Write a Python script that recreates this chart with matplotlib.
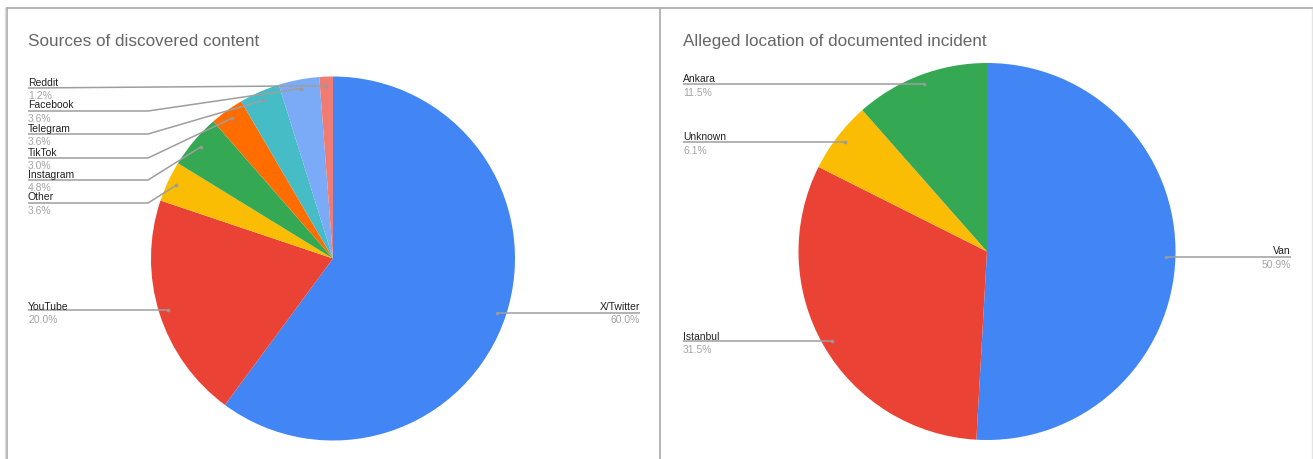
import numpy as np
import matplotlib
matplotlib.use("Agg")
import matplotlib.pyplot as plt

plt.rcParams['font.family'] = ['Liberation Sans', 'DejaVu Sans']

W, H = 1313, 459

# ---- data ----
left_title = "Sources of discovered content"
left_labels = ["X/Twitter", "YouTube", "Other", "Instagram", "TikTok", "Telegram", "Facebook", "Reddit"]
left_values = [60.0, 20.0, 3.6, 4.8, 3.0, 3.6, 3.6, 1.2]
left_colors = ["#4285F4", "#EA4335", "#FBBC04", "#34A853", "#FF6D01", "#46BDC6", "#7BAAF7", "#F07B72"]

right_title = "Alleged location of documented incident"
right_labels = ["Van", "Istanbul", "Unknown", "Ankara"]
right_values = [50.9, 31.5, 6.1, 11.5]
right_colors = ["#4285F4", "#EA4335", "#FBBC04", "#34A853"]

# ---- layout (pixels) ----
left_center = (333, 258.5)
left_radius = 182
right_center = (987, 251.5)
right_radius = 188.5

# label line y positions and side for each slice
left_label_y = {"X/Twitter": 312, "YouTube": 312, "Other": 203, "Instagram": 180,
                "TikTok": 158, "Telegram": 134, "Facebook": 111, "Reddit": 88}
left_label_side = {"X/Twitter": "right"}
right_label_y = {"Van": 257, "Istanbul": 342, "Unknown": 143, "Ankara": 85}
right_label_side = {"Van": "right"}

fig = plt.figure(figsize=(W / 100, H / 100), dpi=100)
ax = fig.add_axes([0, 0, 1, 1])

def Y(y):
    return H - y

LINE_C = "#9e9e9e"
NAME_C = "#222222"
PCT_C = "#a5a5a5"
TITLE_C = "#666666"
LABEL_FS = 7.5
TITLE_FS = 12.3


def draw_pie(values, labels, colors, center, radius, title, title_x,
             label_y, label_side, left_x, right_x, elbow_x):
    cx, cy = center
    ax.pie(values, colors=colors, startangle=90, counterclock=False,
           center=(cx, Y(cy)), radius=radius, normalize=True,
           wedgeprops=dict(linewidth=0, antialiased=True), frame=True)
    total = sum(values)
    cum = 0.0
    for v, lab in zip(values, labels):
        mid = (cum + v / 2) / total
        cum += v
        ang = np.deg2rad(90 - 360 * mid)
        dx = cx + 0.95 * radius * np.cos(ang)
        dy = cy - 0.95 * radius * np.sin(ang)
        L = label_y[lab]
        side = label_side.get(lab, "left")
        end_x = left_x if side == "left" else right_x
        diff = abs(dy - L)
        if diff <= 1.6:
            xs, ys = [dx, end_x], [dy, dy]
        elif elbow_x is not None and diff > 3:
            xs, ys = [dx, elbow_x, end_x], [dy, L, L]
        else:
            xs, ys = [dx, end_x], [dy, L]
        tx, ha = (left_x, "left") if side == "left" else (right_x, "right")
        ax.plot(xs, [Y(y) for y in ys], color=LINE_C, lw=1.1, solid_capstyle="butt", zorder=5)
        ax.plot([dx], [Y(dy)], "o", color="#999999", ms=2.6, mec="none", zorder=6)
        ax.text(tx, Y(L - 2.5), lab, ha=ha, va="baseline", fontsize=LABEL_FS, color=NAME_C, zorder=7)
        ax.text(tx, Y(L + 11), f"{v:.1f}%", ha=ha, va="baseline", fontsize=LABEL_FS, color=PCT_C, zorder=7)
    ax.text(title_x, Y(46), title, ha="left", va="baseline", fontsize=TITLE_FS, color=TITLE_C)


draw_pie(left_values, left_labels, left_colors, left_center, left_radius,
         left_title, 28, left_label_y, left_label_side, 28, 640, 148)
draw_pie(right_values, right_labels, right_colors, right_center, right_radius,
         right_title, 683, right_label_y, right_label_side, 683, 1291, None)

# frame lines (sheet borders)
BORDER = "#b0b0b0"
ax.plot([7, W], [Y(8), Y(8)], color=BORDER, lw=1.3)
ax.plot([7, 7], [Y(8), Y(H)], color=BORDER, lw=1.3)
ax.plot([4.5, 4.5], [Y(8), Y(H)], color="#dddddd", lw=1)
ax.plot([660, 660], [Y(8), Y(H)], color=BORDER, lw=1.3)
ax.plot([1311.5, 1311.5], [Y(9), Y(H)], color="#e4e4e4", lw=1)

ax.set_xlim(0, W)
ax.set_ylim(0, H)
ax.set_aspect("auto")
ax.axis("off")

fig.savefig("out.png", dpi=100, facecolor="white")
